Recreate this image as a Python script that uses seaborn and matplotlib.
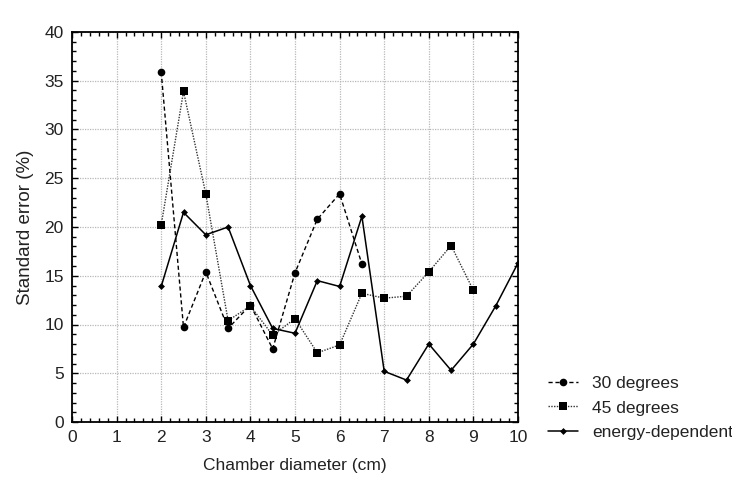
import numpy as np
import pandas as pd
import matplotlib
matplotlib.use("Agg")
import matplotlib.pyplot as plt
import seaborn as sns
from matplotlib.ticker import MultipleLocator

x30 = [2, 2.5, 3, 3.5, 4, 4.5, 5, 5.5, 6, 6.5]
y30 = [35.9, 9.7, 15.4, 9.6, 12.0, 7.5, 15.3, 20.8, 23.4, 16.2]

x45 = [2, 2.5, 3, 3.5, 4, 4.5, 5, 5.5, 6, 6.5, 7, 7.5, 8, 8.5, 9]
y45 = [20.2, 33.9, 23.4, 10.4, 11.9, 8.9, 10.6, 7.1, 7.9, 13.2, 12.7, 12.9, 15.4, 18.1, 13.5]

xen = [2, 2.5, 3, 3.5, 4, 4.5, 5, 5.5, 6, 6.5, 7, 7.5, 8, 8.5, 9, 9.5, 10]
yen = [13.9, 21.5, 19.2, 20.0, 14.0, 9.6, 9.1, 14.5, 13.9, 21.1, 5.2, 4.3, 8.0, 5.3, 8.0, 11.9, 16.3]

labels = ["30 degrees", "45 degrees", "energy-dependent"]

sns.set_theme(style="white")
plt.rcParams['font.family'] = ['Liberation Sans', 'DejaVu Sans']

fig = plt.figure(figsize=(7.32, 4.79), dpi=100)
ax = fig.add_axes([72/732, 1-422/479, (518-72)/732, (422-32)/479])

df30 = pd.DataFrame({"x": x30, "y": y30})
df45 = pd.DataFrame({"x": x45, "y": y45})
dfen = pd.DataFrame({"x": xen, "y": yen})

sns.lineplot(data=df30, x="x", y="y", ax=ax, color="black", linewidth=1.0,
             linestyle=(0, (3, 2)), marker="o", markersize=5.5,
             markeredgewidth=0, label=labels[0])
sns.lineplot(data=df45, x="x", y="y", ax=ax, color="#333333", linewidth=1.0,
             linestyle=(0, (1, 1)), marker="s", markersize=6,
             markerfacecolor="black", markeredgewidth=0, label=labels[1])
sns.lineplot(data=dfen, x="x", y="y", ax=ax, color="black", linewidth=1.1,
             linestyle="-", marker="D", markersize=3.5,
             markeredgewidth=0, label=labels[2])

ax.set_xlim(0, 10)
ax.set_ylim(0, 40)
ax.xaxis.set_major_locator(MultipleLocator(1))
ax.xaxis.set_minor_locator(MultipleLocator(0.2))
ax.yaxis.set_major_locator(MultipleLocator(5))
ax.yaxis.set_minor_locator(MultipleLocator(1))
ax.tick_params(which="both", direction="in", top=True, right=True,
               bottom=True, left=True, color="black", width=1)
ax.tick_params(which="major", length=4, labelsize=12.5, pad=6,
               labelcolor="#222222")
ax.tick_params(which="minor", length=3)
ax.grid(True, which="major", color="#b8b8b8", linestyle=(0, (1, 1)),
        linewidth=0.9)
for s in ax.spines.values():
    s.set_color("black")
    s.set_linewidth(1.3)

ax.set_xlabel("Chamber diameter (cm)", fontsize=12.5, color="#222222", labelpad=9)
ax.set_ylabel("Standard error (%)", fontsize=13.5, color="#222222", labelpad=7)

leg = ax.legend(loc="center left", bbox_to_anchor=(1.067, 0.036), frameon=False,
                fontsize=12.5, handlelength=1.75, handletextpad=0.8,
                labelspacing=0.55, borderaxespad=0, borderpad=0)
for t in leg.get_texts():
    t.set_color("#222222")

fig.savefig("out.png", dpi=100, facecolor="white")
